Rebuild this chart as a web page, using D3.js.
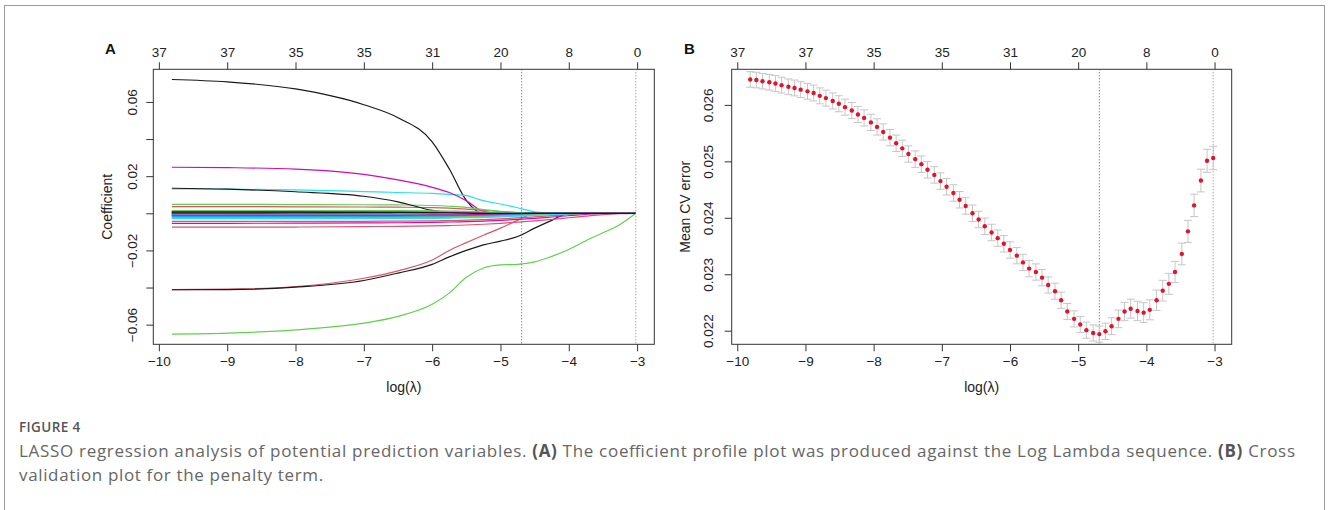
<!DOCTYPE html>
<html>
<head>
<meta charset="utf-8">
<script src="https://cdn.jsdelivr.net/npm/d3@7"></script>
<style>
    body { margin: 0; background: #fff; }
    svg text { font-family: "Liberation Sans", Arial, sans-serif; }
    .axis text { font-size: 13.5px; fill: #222; }
    .axis line { stroke: #333; }
    .caption text { font-family: "Open Sans", sans-serif; }
</style>
</head>
<body>
<svg id="fig" width="1328" height="510"></svg>
<script>
// ---- panel A: coefficient paths, read at these log(lambda) knots ----
const coefLogLambda = [-9.81, -9, -8, -7, -6.5, -6, -5.75, -5.5, -5.25, -5, -4.75, -4.5, -4.25, -4, -3.75, -3.5, -3.25, -3.02];

const coef01 = [0.0721, 0.0708, 0.0670, 0.0585, 0.0515, 0.0385, 0.0240, 0.0070, 0, 0, 0, 0, 0, 0, 0, 0, 0, 0];
const coef02 = [-0.0411, -0.0409, -0.0395, -0.0350, -0.0310, -0.0252, -0.0200, -0.0158, -0.0118, -0.0080, -0.0038, 0, 0, 0, 0, 0, 0, 0];
const coef03 = [-0.0651, -0.0646, -0.0628, -0.0592, -0.0555, -0.0490, -0.0430, -0.0345, -0.0295, -0.0278, -0.0275, -0.0262, -0.0232, -0.0195, -0.0148, -0.0105, -0.0060, 0];
const coef04 = [-0.0010, -0.0010, -0.0010, -0.0010, -0.0009, -0.0009, -0.0008, -0.0007, -0.0006, -0.0005, -0.0003, -0.0001, 0, 0, 0, 0, 0, 0];
const coef05 = [0.0131, 0.0130, 0.0126, 0.0117, 0.0112, 0.0107, 0.0102, 0.0095, 0.0068, 0.0050, 0.0030, 0.0008, 0, 0, 0, 0, 0, 0];
const coef06 = [0.0248, 0.0246, 0.0238, 0.0210, 0.0180, 0.0140, 0.0112, 0.0068, 0.0010, 0, 0, 0, 0, 0, 0, 0, 0, 0];
const coef07 = [-0.0412, -0.0411, -0.0398, -0.0362, -0.0322, -0.0275, -0.0235, -0.0200, -0.0170, -0.0150, -0.0125, -0.0080, -0.0038, 0, 0, 0, 0, 0];
const coef08 = [0.0036, 0.0036, 0.0035, 0.0034, 0.0033, 0.0031, 0.0028, 0.0023, 0.0016, 0.0009, 0.0004, 0.0001, 0, 0, 0, 0, 0, 0];
const coef09 = [0.0048, 0.0048, 0.0047, 0.0046, 0.0045, 0.0042, 0.0038, 0.0032, 0.0020, 0.0011, 0.0004, 0, 0, 0, 0, 0, 0, 0];
const coef10 = [-0.0016, -0.0016, -0.0016, -0.0015, -0.0015, -0.0014, -0.0013, -0.0012, -0.0010, -0.0008, -0.0005, -0.0002, 0, 0, 0, 0, 0, 0];
const coef11 = [-0.0020, -0.0020, -0.0020, -0.0019, -0.0019, -0.0018, -0.0017, -0.0015, -0.0012, -0.0009, -0.0005, -0.0002, 0, 0, 0, 0, 0, 0];
const coef12 = [-0.0054, -0.0054, -0.0053, -0.0052, -0.0051, -0.0049, -0.0047, -0.0045, -0.0042, -0.0038, -0.0033, -0.0027, -0.0020, -0.0013, -0.0006, 0, 0, 0];
const coef13 = [0.0135, 0.0130, 0.0116, 0.0092, 0.0062, 0.0016, 0.0004, 0, 0, 0, 0, 0, 0, 0, 0, 0, 0, 0];
const coef14 = [-0.0075, -0.0075, -0.0074, -0.0072, -0.0070, -0.0068, -0.0066, -0.0063, -0.0059, -0.0054, -0.0048, -0.0041, -0.0033, -0.0024, -0.0015, -0.0007, -0.0002, 0];
const coef15 = [0.0010, 0.0010, 0.0010, 0.0010, 0.0009, 0.0009, 0.0008, 0.0007, 0.0005, 0.0003, 0.0001, 0, 0, 0, 0, 0, 0, 0];
const coef16 = [-0.0008, -0.0008, -0.0008, -0.0008, -0.0007, -0.0006, -0.0004, -0.0002, -0.0001, 0, 0, 0, 0, 0, 0, 0, 0, 0];
const coef17 = [-0.0026, -0.0026, -0.0026, -0.0025, -0.0025, -0.0024, -0.0023, -0.0021, -0.0019, -0.0016, -0.0013, -0.0009, -0.0005, -0.0002, 0, 0, 0, 0];
const coef18 = [0.0005, 0.0005, 0.0005, 0.0005, 0.0004, 0.0003, 0.0002, 0.0001, 0, 0, 0, 0, 0, 0, 0, 0, 0, 0];
const coef19 = [0.0003, 0.0002, 0, 0, 0, 0, 0, 0, 0, 0, 0, 0, 0, 0, 0, 0, 0, 0];
const coef20 = [-0.0044, -0.0044, -0.0044, -0.0043, -0.0042, -0.0041, -0.0039, -0.0037, -0.0034, -0.0030, -0.0025, -0.0019, -0.0013, -0.0007, -0.0002, 0, 0, 0];
const coef21 = [-0.0003, -0.0003, -0.0002, -0.0001, 0, 0, 0, 0, 0, 0, 0, 0, 0, 0, 0, 0, 0, 0];
const coef22 = [-0.0019, -0.0019, -0.0019, -0.0018, -0.0018, -0.0017, -0.0016, -0.0015, -0.0013, -0.0011, -0.0008, -0.0005, -0.0003, -0.0001, 0, 0, 0, 0];
const coef23 = [-0.0012, -0.0012, -0.0012, -0.0011, -0.0010, -0.0009, -0.0007, -0.0004, -0.0002, 0, 0, 0, 0, 0, 0, 0, 0, 0];
const coef24 = [-0.0006, -0.0006, -0.0006, -0.0005, -0.0005, -0.0004, -0.0003, -0.0001, 0, 0, 0, 0, 0, 0, 0, 0, 0, 0];
const coef25 = [0.0008, 0.0008, 0.0008, 0.0007, 0.0007, 0.0006, 0.0004, 0.0002, 0.0001, 0, 0, 0, 0, 0, 0, 0, 0, 0];
const coef26 = [0.0012, 0.0012, 0.0012, 0.0011, 0.0010, 0.0009, 0.0007, 0.0004, 0.0002, 0, 0, 0, 0, 0, 0, 0, 0, 0];
const coef27 = [-0.0023, -0.0023, -0.0023, -0.0022, -0.0022, -0.0021, -0.0020, -0.0019, -0.0017, -0.0014, -0.0011, -0.0008, -0.0005, -0.0002, 0, 0, 0, 0];
const coef28 = [-0.0005, -0.0005, -0.0004, -0.0002, -0.0001, 0, 0, 0, 0, 0, 0, 0, 0, 0, 0, 0, 0, 0];
const coef29 = [-0.0029, -0.0029, -0.0029, -0.0028, -0.0028, -0.0027, -0.0026, -0.0024, -0.0022, -0.0019, -0.0015, -0.0011, -0.0007, -0.0003, -0.0001, 0, 0, 0];
const coef30 = [0.0002, 0.0002, 0.0002, 0.0001, 0, 0, 0, 0, 0, 0, 0, 0, 0, 0, 0, 0, 0, 0];
const coef31 = [-0.0002, -0.0001, 0, 0, 0, 0, 0, 0, 0, 0, 0, 0, 0, 0, 0, 0, 0, 0];
const coef32 = [0.0002, 0.0002, 0.0001, 0.0001, 0, 0, 0, 0, 0, 0, 0, 0, 0, 0, 0, 0, 0, 0];
const coef33 = [0.0015, 0.0015, 0.0015, 0.0015, 0.0014, 0.0013, 0.0012, 0.0010, 0.0007, 0.0004, 0.0002, 0, 0, 0, 0, 0, 0, 0];
const coef34 = [-0.0013, -0.0013, -0.0013, -0.0013, -0.0012, -0.0012, -0.0011, -0.0010, -0.0008, -0.0006, -0.0003, -0.0001, 0, 0, 0, 0, 0, 0];
const coef35 = [-0.0007, -0.0007, -0.0007, -0.0006, -0.0006, -0.0005, -0.0004, -0.0002, 0, 0, 0, 0, 0, 0, 0, 0, 0, 0];
const coef36 = [-0.0010, -0.0010, -0.0010, -0.0010, -0.0010, -0.0009, -0.0009, -0.0008, -0.0006, -0.0004, -0.0002, 0, 0, 0, 0, 0, 0, 0];
const coef37 = [0.0006, 0.0006, 0.0006, 0.0005, 0.0005, 0.0004, 0.0003, 0.0001, 0, 0, 0, 0, 0, 0, 0, 0, 0, 0];

const coefPaths = [coef01, coef02, coef03, coef04, coef05, coef06, coef07, coef08, coef09, coef10,
    coef11, coef12, coef13, coef14, coef15, coef16, coef17, coef18, coef19, coef20,
    coef21, coef22, coef23, coef24, coef25, coef26, coef27, coef28, coef29, coef30,
    coef31, coef32, coef33, coef34, coef35, coef36, coef37];

// ---- panel B: cross-validation curve ----
const cvLogLambda = [-9.81, -9.72, -9.63, -9.53, -9.44, -9.35, -9.25, -9.16, -9.07, -8.97,
    -8.88, -8.79, -8.70, -8.60, -8.51, -8.42, -8.32, -8.23, -8.14, -8.04,
    -7.95, -7.86, -7.76, -7.67, -7.58, -7.49, -7.39, -7.30, -7.21, -7.11,
    -7.02, -6.93, -6.83, -6.74, -6.65, -6.55, -6.46, -6.37, -6.27, -6.18,
    -6.09, -6.00, -5.90, -5.81, -5.72, -5.62, -5.53, -5.44, -5.34, -5.25,
    -5.16, -5.06, -4.97, -4.88, -4.78, -4.69, -4.60, -4.51, -4.41, -4.32,
    -4.23, -4.13, -4.04, -3.95, -3.85, -3.76, -3.67, -3.58, -3.48, -3.39,
    -3.30, -3.20, -3.11, -3.02];
const cvMean = [0.02645, 0.02644, 0.02642, 0.02640, 0.02638, 0.02635, 0.02632, 0.02630, 0.02627, 0.02624,
    0.02621, 0.02616, 0.02612, 0.02607, 0.02602, 0.02596, 0.02590, 0.02583, 0.02577, 0.02569,
    0.02561, 0.02552, 0.02542, 0.02532, 0.02523, 0.02513, 0.02504, 0.02495, 0.02485, 0.02476,
    0.02465, 0.02455, 0.02444, 0.02432, 0.02421, 0.02408, 0.02397, 0.02385, 0.02374, 0.02364,
    0.02354, 0.02343, 0.02333, 0.02321, 0.02310, 0.02304, 0.02294, 0.02281, 0.02270, 0.02254,
    0.02234, 0.02221, 0.02211, 0.02201, 0.02196, 0.02194, 0.02199, 0.02208, 0.02221, 0.02234,
    0.02239, 0.02235, 0.02232, 0.02237, 0.02254, 0.02271, 0.02283, 0.02304, 0.02336, 0.02376,
    0.02422, 0.02466, 0.02501, 0.02506];
const cvSd = [0.000138, 0.000138, 0.000138, 0.000138, 0.000139, 0.000139, 0.000139, 0.000140, 0.000140, 0.000140,
    0.000141, 0.000141, 0.000141, 0.000142, 0.000142, 0.000142, 0.000143, 0.000143, 0.000143, 0.000144,
    0.000144, 0.000144, 0.000145, 0.000145, 0.000145, 0.000145, 0.000146, 0.000146, 0.000146, 0.000146,
    0.000146, 0.000146, 0.000146, 0.000146, 0.000146, 0.000146, 0.000146, 0.000146, 0.000146, 0.000145,
    0.000145, 0.000145, 0.000145, 0.000144, 0.000144, 0.000144, 0.000144, 0.000143, 0.000143, 0.000143,
    0.000143, 0.000143, 0.000143, 0.000143, 0.000143, 0.000143, 0.000145, 0.000150, 0.000156, 0.000162,
    0.000168, 0.000172, 0.000175, 0.000177, 0.000180, 0.000183, 0.000186, 0.000189, 0.000192, 0.000195,
    0.000198, 0.000201, 0.000204, 0.000207];

const lambdaMinLog = -4.69;
const lambda1seLog = -3.02;

// ---- axes ----
const logTicks = [-10, -9, -8, -7, -6, -5, -4, -3];
const dfLabels = ["37", "37", "35", "35", "31", "20", "8", "0"];
const coefTicks = [-0.06, -0.04, -0.02, 0, 0.02, 0.04, 0.06];
const coefLabelled = [-0.06, -0.02, 0.02, 0.06];
const cvTicks = [0.022, 0.023, 0.024, 0.025, 0.026];

const palette = ["#1a1a1a", "#DF536B", "#61D04F", "#2297E6", "#28E2E5", "#CD0BBC"];

const svg = d3.select("#fig");

// figure frame
svg.append("rect")
    .attr("x", 4.5).attr("y", 5.5)
    .attr("width", 1320).attr("height", 530)
    .attr("fill", "none").attr("stroke", "#9a9a9a").attr("stroke-width", 1);

// R-like range: data extent widened by 4% each side
function padDomain(ext) {
    const s = (ext[1] - ext[0]) * 0.04;
    return [ext[0] - s, ext[1] + s];
}

function drawFrame(box, x, y, opts) {
    const g = svg.append("g");

    // bottom axis
    g.append("g").attr("class", "axis")
        .attr("transform", `translate(0,${box.bottom})`)
        .call(d3.axisBottom(x).tickValues(logTicks).tickSize(7).tickPadding(5)
            .tickFormat(d3.format("d")))
        .call(a => a.select(".domain").remove());

    // top axis with number of non-zero coefficients
    g.append("g").attr("class", "axis")
        .attr("transform", `translate(0,${box.top})`)
        .call(d3.axisTop(x).tickValues(logTicks).tickSize(7).tickPadding(5)
            .tickFormat((d, i) => dfLabels[i]))
        .call(a => a.select(".domain").remove());

    // left axis, rotated labels
    const ya = g.append("g").attr("class", "axis")
        .attr("transform", `translate(${box.left},0)`)
        .call(d3.axisLeft(y).tickValues(opts.yTicks).tickSize(7)
            .tickFormat(opts.yFormat))
        .call(a => a.select(".domain").remove());
    ya.selectAll(".tick text")
        .attr("transform", "rotate(-90)")
        .attr("x", 0).attr("y", -opts.labelGap).attr("dy", 0)
        .attr("text-anchor", "middle");

    // box
    g.append("rect")
        .attr("x", box.left).attr("y", box.top)
        .attr("width", box.right - box.left).attr("height", box.bottom - box.top)
        .attr("fill", "none").attr("stroke", "#333").attr("stroke-width", 1);

    // axis titles
    g.append("text")
        .attr("x", (box.left + box.right) / 2).attr("y", 392)
        .attr("text-anchor", "middle").attr("font-size", 14).attr("fill", "#222")
        .text("log(λ)");
    g.append("text")
        .attr("transform", `translate(${opts.titleX},${(box.top + box.bottom) / 2}) rotate(-90)`)
        .attr("text-anchor", "middle").attr("font-size", 14).attr("fill", "#222")
        .text(opts.yTitle);

    // panel letter
    g.append("text")
        .attr("x", opts.letterX).attr("y", 54)
        .attr("font-size", 15).attr("font-weight", "bold").attr("fill", "#111")
        .text(opts.letter);

    // dotted lines at lambda.min and lambda.1se
    g.selectAll("line.vref")
        .data([lambdaMinLog, lambda1seLog])
        .join("line")
        .attr("class", "vref")
        .attr("x1", d => x(d)).attr("x2", d => x(d))
        .attr("y1", box.top).attr("y2", box.bottom)
        .attr("stroke", (d, i) => i === 0 ? "#555" : "#888").attr("stroke-width", 1)
        .attr("stroke-dasharray", "1,2");
}

// ---------- panel A ----------
const boxA = { left: 153.3, right: 654.3, top: 69.3, bottom: 344.3 };
const xA = d3.scaleLinear().domain(padDomain(d3.extent(coefLogLambda))).range([boxA.left, boxA.right]);
const yA = d3.scaleLinear().domain(padDomain(d3.extent(coefPaths.flat()))).range([boxA.bottom, boxA.top]);

const coefLine = d3.line()
    .x((d, i) => xA(coefLogLambda[i]))
    .y(d => yA(d))
    .curve(d3.curveMonotoneX);

svg.append("g")
    .selectAll("path")
    .data(coefPaths)
    .join("path")
    .attr("d", coefLine)
    .attr("fill", "none")
    .attr("stroke", (d, i) => palette[i % palette.length])
    .attr("stroke-width", 1.2);

drawFrame(boxA, xA, yA, {
    yTicks: coefTicks,
    yFormat: d => coefLabelled.some(v => Math.abs(v - d) < 1e-9) ? d3.format(".2f")(d) : "",
    labelGap: 16.6,
    titleX: 111.5,
    yTitle: "Coefficient",
    letter: "A",
    letterX: 105
});

// ---------- panel B ----------
const boxB = { left: 731.7, right: 1231.7, top: 69.3, bottom: 344.3 };
const xB = d3.scaleLinear().domain(padDomain(d3.extent(cvLogLambda))).range([boxB.left, boxB.right]);
const yB = d3.scaleLinear().domain(padDomain(d3.extent(cvMean))).range([boxB.bottom, boxB.top]);

drawFrame(boxB, xB, yB, {
    yTicks: cvTicks,
    yFormat: d3.format(".3f"),
    labelGap: 18.4,
    titleX: 690,
    yTitle: "Mean CV error",
    letter: "B",
    letterX: 684
});

const cvData = cvLogLambda.map((l, i) => ({ l: l, m: cvMean[i], sd: cvSd[i] }));
const capW = 4;

const bars = svg.append("g").attr("stroke", "#c6c6c6").attr("stroke-width", 1);
bars.selectAll("line.v").data(cvData).join("line").attr("class", "v")
    .attr("x1", d => xB(d.l)).attr("x2", d => xB(d.l))
    .attr("y1", d => yB(d.m + d.sd)).attr("y2", d => yB(d.m - d.sd));
bars.selectAll("line.up").data(cvData).join("line").attr("class", "up")
    .attr("x1", d => xB(d.l) - capW).attr("x2", d => xB(d.l) + capW)
    .attr("y1", d => yB(d.m + d.sd)).attr("y2", d => yB(d.m + d.sd));
bars.selectAll("line.lo").data(cvData).join("line").attr("class", "lo")
    .attr("x1", d => xB(d.l) - capW).attr("x2", d => xB(d.l) + capW)
    .attr("y1", d => yB(d.m - d.sd)).attr("y2", d => yB(d.m - d.sd));

svg.append("g").selectAll("circle").data(cvData).join("circle")
    .attr("cx", d => xB(d.l)).attr("cy", d => yB(d.m))
    .attr("r", 2.2).attr("fill", "#e3132c");

// ---------- caption ----------
const cap = svg.append("g").attr("class", "caption");
cap.append("text")
    .attr("x", 19).attr("y", 432)
    .attr("font-size", 13.5).attr("fill", "#555").attr("font-weight", 600)
    .attr("letter-spacing", 0.4)
    .text("FIGURE 4");

const line1 = cap.append("text").attr("x", 19).attr("y", 457)
    .attr("font-size", 17).attr("fill", "#666")
    .attr("textLength", 1276).attr("lengthAdjust", "spacing");
line1.append("tspan").text("LASSO regression analysis of potential prediction variables. ");
line1.append("tspan").attr("font-weight", "bold").attr("fill", "#555").text("(A)");
line1.append("tspan").text(" The coefficient profile plot was produced against the Log Lambda sequence. ");
line1.append("tspan").attr("font-weight", "bold").attr("fill", "#555").text("(B)");
line1.append("tspan").text(" Cross");

cap.append("text").attr("x", 19).attr("y", 481)
    .attr("font-size", 17).attr("fill", "#666").attr("letter-spacing", 0.65)
    .text("validation plot for the penalty term.");
</script>
</body>
</html>
